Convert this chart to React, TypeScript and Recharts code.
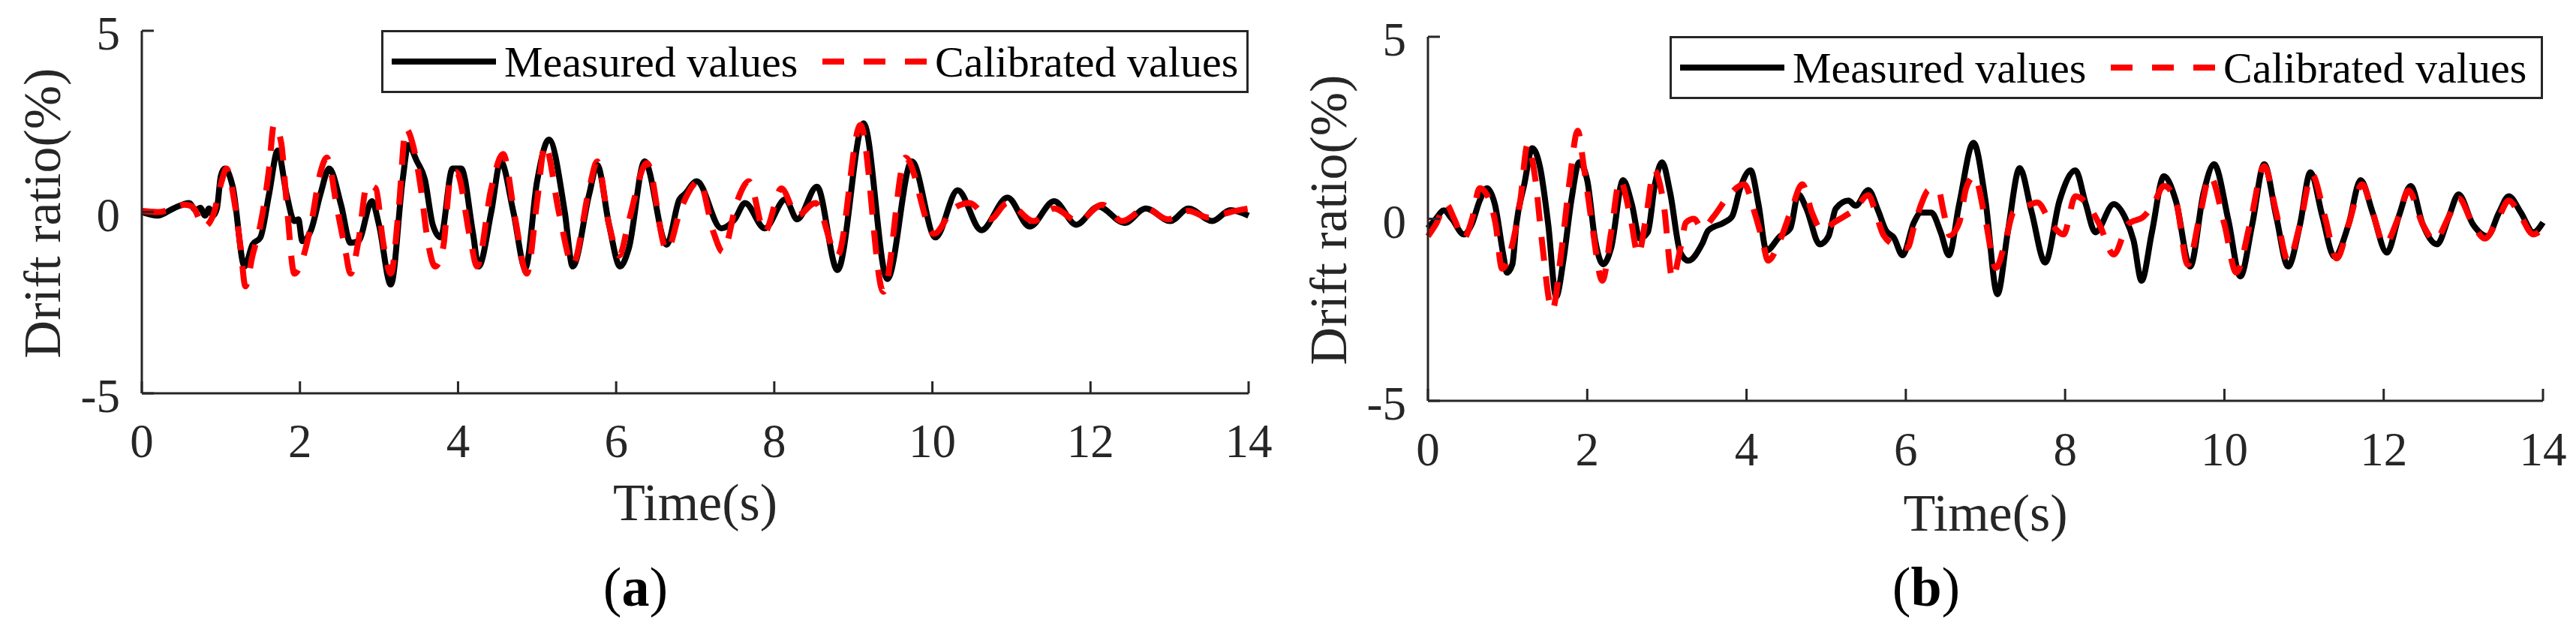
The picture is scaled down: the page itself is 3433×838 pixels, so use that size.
import { LineChart, Line, XAxis, YAxis, Legend } from "recharts";

// ─── Data ─────────────────────────────────────────────────────────────────────

type Pt = [number, number]; // [time (s), drift ratio (%)]

const timeTicks = [0, 2, 4, 6, 8, 10, 12, 14];
const driftTicks = [-5, 0, 5];
const seriesNames = ["Measured values", "Calibrated values"];
const captions = ["a", "b"];

const measuredA: Pt[] = [
  [0, 0], [0.2, -0.1], [0.4, 0.1], [0.6, 0.25], [0.68, 0.05], [0.74, 0.12], [0.8, -0.1],
  [0.85, 0.1], [0.9, -0.1], [0.95, 0.1], [1.0, 1.0], [1.05, 1.2], [1.15, 0.7], [1.3, -1.5],
  [1.4, -0.9], [1.5, -0.7], [1.61, 0.5], [1.72, 1.7], [1.83, 0.5], [1.93, -0.25], [1.98, -0.2],
  [2.03, -0.8], [2.14, -0.5], [2.26, 0.5], [2.37, 1.2], [2.52, 0.2], [2.64, -0.85], [2.74, -0.8],
  [2.91, 0.3], [3.0, -0.35], [3.15, -2.0], [3.3, 0.9], [3.37, 1.85], [3.48, 1.4], [3.58, 0.9],
  [3.68, -0.35], [3.78, -0.7], [3.93, 1.2], [4.04, 1.2], [4.19, -0.6], [4.26, -1.5], [4.42, 0],
  [4.54, 1.4], [4.7, 0], [4.85, -1.55], [5.0, 0.85], [5.15, 2.0], [5.35, 0], [5.45, -1.5],
  [5.66, 0.5], [5.76, 1.3], [5.91, -0.35], [6.05, -1.5], [6.16, -1.0], [6.36, 1.4], [6.64, -0.9],
  [6.8, 0.35], [6.87, 0.5], [7.02, 0.85], [7.33, -0.45], [7.5, -0.2], [7.63, 0.25], [7.88, -0.45],
  [8.14, 0.35], [8.29, -0.2], [8.54, 0.7], [8.8, -1.6], [9.13, 2.45], [9.43, -1.85], [9.74, 1.4],
  [10.04, -0.7], [10.32, 0.6], [10.62, -0.5], [10.95, 0.4], [11.23, -0.4], [11.54, 0.3],
  [11.82, -0.35], [12.1, 0.15], [12.43, -0.3], [12.7, 0.1], [13.01, -0.25], [13.24, 0.1],
  [13.54, -0.25], [13.77, 0.05], [14, -0.1],
];

const calibratedA: Pt[] = [
  [0, 0.03], [0.2, 0], [0.4, 0.1], [0.54, 0.2], [0.64, 0.15], [0.79, -0.4], [0.9, -0.1],
  [1.01, 0.85], [1.07, 1.2], [1.17, 0.3], [1.25, -1.0], [1.31, -2.05], [1.4, -1.2], [1.5, -0.35],
  [1.61, 1.2], [1.67, 2.4], [1.76, 1.95], [1.83, 0.3], [1.93, -1.7], [2.04, -1.25], [2.14, -0.35],
  [2.26, 1.1], [2.34, 1.5], [2.47, 0.1], [2.57, -1.0], [2.64, -1.7], [2.74, -0.8], [2.85, 0.75],
  [2.96, 0.65], [3.05, -0.8], [3.15, -1.7], [3.25, 0.1], [3.34, 2.3], [3.43, 1.85], [3.53, 0.65],
  [3.61, -0.7], [3.71, -1.5], [3.81, -1.0], [3.91, 1.0], [3.98, 1.1], [4.16, -0.8], [4.24, -1.5],
  [4.42, 0.65], [4.57, 1.6], [4.72, -0.15], [4.87, -1.7], [5.0, 0.3], [5.1, 1.85], [5.28, -0.05],
  [5.45, -1.45], [5.66, 0.65], [5.76, 1.4], [5.91, -0.35], [6.04, -1.2], [6.16, -0.25],
  [6.39, 1.35], [6.64, -1.05], [6.82, 0.1], [7.05, 0.85], [7.23, -0.55], [7.35, -1.1], [7.53, 0.3],
  [7.68, 0.85], [7.88, -0.55], [8.09, 0.65], [8.29, -0.1], [8.52, 0.25], [8.8, -1.2], [9.09, 2.4],
  [9.38, -2.2], [9.66, 1.5], [10.02, -0.6], [10.27, 0.1], [10.47, 0.25], [10.73, -0.2],
  [10.95, 0.25], [11.28, -0.25], [11.54, 0.1], [11.84, -0.25], [12.15, 0.2], [12.4, -0.25],
  [12.7, 0.1], [12.98, -0.2], [13.24, 0.03], [13.49, -0.15], [13.77, 0], [14, 0.1],
];

const measuredB: Pt[] = [
  [0, -0.26], [0.1, 0], [0.2, 0.23], [0.3, 0], [0.45, -0.43], [0.55, -0.15], [0.65, 0.5],
  [0.74, 0.84], [0.84, 0.4], [0.95, -1.04], [0.99, -1.48], [1.06, -1.25], [1.11, -0.15],
  [1.21, 0.95], [1.31, 1.94], [1.41, 1.39], [1.51, -0.15], [1.61, -2.14], [1.7, -1.15], [1.8, 0.5],
  [1.9, 1.55], [2.0, 1.06], [2.1, -0.6], [2.2, -1.25], [2.3, -0.8], [2.45, 1.06], [2.56, 0.4],
  [2.66, -0.54], [2.76, -0.37], [2.85, 0.95], [2.94, 1.55], [3.04, 0.73], [3.17, -0.93],
  [3.27, -1.15], [3.44, -0.7], [3.52, -0.32], [3.72, -0.1], [3.82, 0.07], [3.92, 0.84],
  [4.05, 1.33], [4.15, 0.4], [4.25, -0.87], [4.42, -0.48], [4.55, -0.26], [4.65, 0.67],
  [4.75, 0.29], [4.92, -0.7], [5.03, -0.48], [5.12, 0.28], [5.28, 0.5], [5.37, 0.36], [5.53, 0.79],
  [5.65, 0.24], [5.75, -0.32], [5.85, -0.52], [5.96, -1.0], [6.1, -0.11], [6.19, 0.17],
  [6.32, 0.17], [6.44, -0.38], [6.54, -1.0], [6.67, 0.4], [6.85, 2.09], [7.0, 0.5], [7.15, -2.07],
  [7.28, -0.37], [7.43, 1.39], [7.58, 0.18], [7.75, -1.2], [7.93, 0.5], [8.13, 1.33], [8.26, 0.4],
  [8.38, -0.37], [8.61, 0.4], [8.76, 0.0], [8.86, -0.6], [8.96, -1.7], [9.09, -0.37], [9.24, 1.17],
  [9.39, 0.5], [9.57, -1.31], [9.74, 0.73], [9.87, 1.5], [10.05, -0.04], [10.2, -1.58],
  [10.35, -0.15], [10.5, 1.5], [10.65, 0.07], [10.8, -1.31], [10.95, -0.15], [11.08, 1.28],
  [11.23, 0.07], [11.38, -1.04], [11.56, -0.15], [11.71, 1.06], [11.86, 0.18], [12.04, -0.93],
  [12.19, 0.07], [12.34, 0.9], [12.49, -0.15], [12.67, -0.7], [12.82, 0.07], [12.94, 0.67],
  [13.12, -0.15], [13.3, -0.48], [13.45, 0.18], [13.57, 0.62], [13.72, 0.18], [13.88, -0.37],
  [14, -0.1],
];

const calibratedB: Pt[] = [
  [0, -0.48], [0.1, -0.15], [0.23, 0.4], [0.33, 0], [0.45, -0.54], [0.55, -0.04], [0.65, 0.84],
  [0.75, 0.62], [0.85, -0.15], [0.93, -1.37], [1.06, -0.7], [1.16, 0.5], [1.25, 2.03], [1.35, 1.06],
  [1.43, -0.59], [1.56, -2.51], [1.68, -0.81], [1.78, 1.06], [1.88, 2.42], [1.96, 1.39],
  [2.06, -0.15], [2.19, -1.7], [2.3, -0.37], [2.41, 1.06], [2.54, 0.07], [2.64, -0.98], [2.74, 0.07],
  [2.84, 1.33], [2.96, 0.4], [3.07, -1.64], [3.17, -0.81], [3.24, -0.1], [3.34, 0], [3.44, -0.26],
  [3.59, 0.07], [3.77, 0.62], [3.97, 0.95], [4.1, 0.18], [4.2, -0.59], [4.27, -1.15], [4.42, -0.59],
  [4.57, 0.29], [4.7, 0.95], [4.82, 0.18], [4.95, -0.32], [5.1, -0.1], [5.23, 0.07], [5.35, 0.24],
  [5.53, 0.65], [5.63, 0.1], [5.72, -0.45], [5.89, -0.75], [6.02, -0.8], [6.1, -0.24], [6.19, 0.38],
  [6.29, 0.79], [6.41, 0.79], [6.47, 0.24], [6.55, -0.45], [6.67, -0.11], [6.76, 0.86],
  [6.86, 1.17], [7.0, -0.04], [7.13, -1.35], [7.26, -0.52], [7.35, 0.17], [7.48, 0.3], [7.65, 0.45],
  [7.83, -0.15], [7.98, -0.43], [8.13, 0.62], [8.28, 0.4], [8.43, -0.15], [8.61, -0.98],
  [8.79, -0.15], [8.99, 0.07], [9.11, 0.4], [9.24, 0.9], [9.39, 0.5], [9.54, -1.26], [9.69, 0.07],
  [9.82, 1.17], [10.0, -0.15], [10.15, -1.48], [10.32, -0.15], [10.5, 1.45], [10.65, 0.18],
  [10.8, -1.15], [10.95, -0.15], [11.1, 1.22], [11.26, 0.07], [11.41, -1.09], [11.56, -0.15],
  [11.73, 0.95], [11.86, 0.18], [12.01, -0.7], [12.19, 0.07], [12.31, 0.78], [12.49, -0.15],
  [12.64, -0.59], [12.82, 0.07], [12.94, 0.56], [13.12, -0.15], [13.27, -0.54], [13.45, 0.07],
  [13.57, 0.5], [13.72, 0.07], [13.88, -0.43], [13.98, -0.3],
];

// ─── Styling / layout ─────────────────────────────────────────────────────────

const PAGE_W = 3433;
const PAGE_H = 838;
const FONT = '"Liberation Serif", "Times New Roman", serif';
const AXIS = "#262626";
const Y_AXIS_W = 120;
const X_AXIS_H = 120;
const LINE_W = 8;
const DASH = "32 21";

interface PanelLayout {
  left: number; // chart position on the page
  width: number;
  plotLeft: number; // the rest are chart-local pixels
  plotRight: number;
  plotTop: number;
  plotBottom: number;
  tickBaseline: number;
  xLabelBaseline: number;
  yLabelX: number;
  yLabelY: number;
  legendLeft: number;
  legendWidth: number;
  captionX: number; // page pixels
}

const layoutA: PanelLayout = {
  left: 0, width: 1780,
  plotLeft: 189, plotRight: 1664, plotTop: 41, plotBottom: 524,
  tickBaseline: 609, xLabelBaseline: 693, yLabelX: 80, yLabelY: 284,
  legendLeft: 508, legendWidth: 1156, captionX: 847,
};

const layoutB: PanelLayout = {
  left: 1720, width: 1713,
  plotLeft: 183, plotRight: 1669, plotTop: 49, plotBottom: 534,
  tickBaseline: 620, xLabelBaseline: 707, yLabelX: 74, yLabelY: 293,
  legendLeft: 505, legendWidth: 1164, captionX: 2567,
};

const toPoints = (pts: Pt[]) => pts.map(([t, v]) => ({ t, v }));

// ─── Pieces ───────────────────────────────────────────────────────────────────

const noTick = () => <g />;

const makeLegend = (width: number) => (props: any) => {
  const items = [...(props.payload ?? [])].sort(
    (a: any, b: any) => seriesNames.indexOf(a.value) - seriesNames.indexOf(b.value)
  );
  return (
    <svg width={width} height={84} style={{ display: "block" }}>
      <rect x={1.5} y={1.5} width={width - 3} height={81} fill="#fff" stroke={AXIS} strokeWidth={3} />
      {items.map((item: any, i: number) => {
        const x0 = i === 0 ? 14 : 588;
        const dashed = item.value === seriesNames[1];
        return (
          <g key={item.value}>
            <line
              x1={x0}
              x2={x0 + 139}
              y1={42}
              y2={42}
              stroke={item.color}
              strokeWidth={8}
              strokeDasharray={dashed ? "29 26" : undefined}
            />
            <text x={x0 + 150} y={62} fontSize={58} fontFamily={FONT} fill="#000">
              {item.value}
            </text>
          </g>
        );
      })}
    </svg>
  );
};

function DriftPanel({
  layout,
  measured,
  calibrated,
}: {
  layout: PanelLayout;
  measured: Pt[];
  calibrated: Pt[];
}) {
  const L = layout;
  const axisStroke = { stroke: AXIS, strokeWidth: 3 };

  return (
    <div style={{ position: "absolute", left: L.left, top: 0 }}>
      <LineChart
        width={L.width}
        height={PAGE_H}
        margin={{
          top: L.plotTop,
          right: L.width - L.plotRight,
          bottom: PAGE_H - L.plotBottom - X_AXIS_H,
          left: L.plotLeft - Y_AXIS_W,
        }}
      >
        <XAxis
          xAxisId="bottom"
          dataKey="t"
          type="number"
          domain={[0, 14]}
          ticks={timeTicks}
          height={X_AXIS_H}
          axisLine={axisStroke}
          tickLine={axisStroke}
          tickSize={-16}
          tick={(p: any) => (
            <text x={p.x} y={L.tickBaseline} textAnchor="middle" fontSize={63} fontFamily={FONT} fill={AXIS}>
              {p.payload.value}
            </text>
          )}
          label={() => (
            <text
              x={(L.plotLeft + L.plotRight) / 2}
              y={L.xLabelBaseline}
              textAnchor="middle"
              fontSize={70}
              fontFamily={FONT}
              fill={AXIS}
            >
              Time(s)
            </text>
          )}
        />
        <XAxis
          xAxisId="top"
          orientation="top"
          dataKey="t"
          type="number"
          domain={[0, 14]}
          allowDataOverflow
          ticks={timeTicks}
          height={0}
          axisLine={axisStroke}
          tickLine={axisStroke}
          tickSize={-16}
          tick={noTick}
        />
        <YAxis
          yAxisId="left"
          type="number"
          domain={[-5, 5]}
          ticks={driftTicks}
          width={Y_AXIS_W}
          axisLine={axisStroke}
          tickLine={axisStroke}
          tickSize={-16}
          tick={(p: any) => (
            <text x={L.plotLeft - 29} y={p.y} dy={25} textAnchor="end" fontSize={63} fontFamily={FONT} fill={AXIS}>
              {p.payload.value}
            </text>
          )}
          label={() => (
            <text
              transform={`translate(${L.yLabelX}, ${L.yLabelY}) rotate(-90)`}
              textAnchor="middle"
              fontSize={70}
              fontFamily={FONT}
              fill={AXIS}
            >
              Drift ratio(%)
            </text>
          )}
        />
        <YAxis
          yAxisId="right"
          orientation="right"
          type="number"
          domain={[-5, 5]}
          allowDataOverflow
          ticks={driftTicks}
          width={0}
          axisLine={axisStroke}
          tickLine={axisStroke}
          tickSize={-16}
          tick={noTick}
        />
        <Legend
          layout="vertical"
          align="center"
          verticalAlign="middle"
          content={makeLegend(L.legendWidth)}
          wrapperStyle={{
            position: "absolute",
            left: L.legendLeft,
            top: L.plotTop - 1.5,
            width: L.legendWidth,
            height: 84,
          }}
        />
        <Line
          xAxisId="bottom"
          yAxisId="left"
          name={seriesNames[0]}
          data={toPoints(measured)}
          dataKey="v"
          type="monotone"
          stroke="#000000"
          strokeWidth={LINE_W}
          strokeLinejoin="round"
          dot={false}
          activeDot={false}
          isAnimationActive={false}
        />
        <Line
          xAxisId="bottom"
          yAxisId="left"
          name={seriesNames[1]}
          data={toPoints(calibrated)}
          dataKey="v"
          type="monotone"
          stroke="#ff0000"
          strokeWidth={LINE_W}
          strokeDasharray={DASH}
          dot={false}
          activeDot={false}
          isAnimationActive={false}
        />
      </LineChart>
    </div>
  );
}

// ─── Page ─────────────────────────────────────────────────────────────────────

export default function App() {
  const layouts = [layoutA, layoutB];
  return (
    <div
      style={{
        position: "absolute",
        left: 0,
        top: 0,
        width: PAGE_W,
        height: PAGE_H,
        background: "#fff",
        overflow: "hidden",
      }}
    >
      <DriftPanel layout={layoutA} measured={measuredA} calibrated={calibratedA} />
      <DriftPanel layout={layoutB} measured={measuredB} calibrated={calibratedB} />
      <svg
        width={PAGE_W}
        height={PAGE_H}
        style={{ position: "absolute", left: 0, top: 0, pointerEvents: "none" }}
      >
        {captions.map((c, i) => (
          <text key={c} x={layouts[i].captionX} y={807} textAnchor="middle" fontSize={74} fontFamily={FONT} fill="#000">
            (<tspan fontWeight="bold">{c}</tspan>)
          </text>
        ))}
      </svg>
    </div>
  );
}
